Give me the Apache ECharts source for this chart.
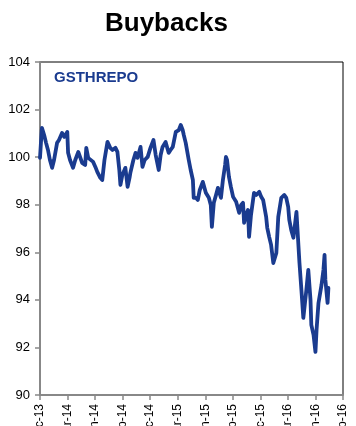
<!DOCTYPE html>
<html>
<head>
<meta charset="utf-8">
<script src="https://cdn.jsdelivr.net/npm/echarts@6/dist/echarts.min.js"></script>
<style>html,body{margin:0;padding:0;background:#fff}#c{width:356px;height:426px}</style>
</head>
<body>
<div id="c"></div>
<script>
// Quarter tick labels (x axis position = quarters since Dec-13)
var tickLabels = ['Dec-13','Mar-14','Jun-14','Sep-14','Dec-14','Mar-15','Jun-15','Sep-15','Dec-15','Mar-16','Jun-16','Sep-16'];
// Time positions (in quarters) of the sampled points
var quarterPos = [0,0.04,0.07,0.15,0.22,0.29,0.36,0.44,0.51,0.62,0.69,0.80,0.88,0.99,1.02,1.09,1.20,1.28,1.39,1.46,1.53,1.64,1.68,1.75,1.82,1.93,2.01,2.08,2.19,2.26,2.34,2.45,2.55,2.63,2.74,2.81,2.88,2.92,2.99,3.10,3.18,3.25,3.28,3.39,3.47,3.54,3.65,3.72,3.80,3.91,4.01,4.12,4.20,4.31,4.38,4.45,4.56,4.67,4.74,4.82,4.93,5.04,5.11,5.18,5.22,5.29,5.40,5.47,5.55,5.58,5.66,5.73,5.80,5.91,6.02,6.13,6.20,6.24,6.31,6.39,6.46,6.57,6.64,6.72,6.75,6.79,6.86,6.93,7.01,7.12,7.23,7.30,7.37,7.41,7.48,7.55,7.59,7.66,7.77,7.85,7.96,8.03,8.10,8.21,8.25,8.32,8.39,8.47,8.58,8.65,8.76,8.87,8.94,9.01,9.05,9.12,9.20,9.31,9.38,9.42,9.49,9.56,9.67,9.74,9.82,9.85,9.93,10.00,10.04,10.11,10.22,10.29,10.33,10.36,10.44,10.47];
// GSTHREPO index values
var gsthrepo = [99.97,100.72,101.23,100.93,100.60,100.30,99.88,99.55,99.88,100.60,100.72,101.02,100.85,101.06,100.18,99.88,99.55,99.88,100.22,100.22,99.76,99.67,100.39,99.97,100.01,99.80,99.59,99.38,99.13,99.04,99.88,100.64,100.39,100.30,100.39,100.22,99.46,98.83,99.25,99.55,98.75,99.13,99.34,99.88,100.18,99.97,100.43,99.59,99.88,100.01,100.39,100.72,100.09,99.46,100.09,100.43,100.64,100.18,100.30,100.43,101.06,101.14,101.35,101.14,100.93,100.60,99.88,99.46,99.04,98.29,98.29,98.20,98.62,98.96,98.50,98.29,97.99,97.07,98.08,98.41,98.71,98.29,99.04,99.67,100.01,99.88,99.17,98.75,98.33,98.12,97.66,97.99,98.08,97.24,97.57,97.78,96.65,97.57,98.50,98.41,98.54,98.33,98.20,97.49,97.03,96.65,96.31,95.55,95.97,97.49,98.29,98.41,98.29,97.91,97.36,96.94,96.61,97.70,97.70,95.55,94.42,93.24,94.42,95.26,94.00,92.95,92.53,91.81,92.74,93.87,94.63,95.26,95.89,94.84,93.87,94.50];
var yTicks = [90,92,94,96,98,100,102,104];

var data = quarterPos.map(function(q,i){return [q, gsthrepo[i]];});
var chart = echarts.init(document.getElementById('c'), null, {renderer:'canvas'});
var navy = '#1a3b8f';
chart.setOption({
  animation:false,
  backgroundColor:'#fff',
  textStyle:{fontFamily:'Liberation Sans, Arial, sans-serif'},
  grid:{left:40,right:13,top:62,bottom:31,containLabel:false,outerBoundsMode:'none',show:true,borderColor:'#000',borderWidth:1,backgroundColor:'transparent'},
  xAxis:{type:'value',min:0,max:tickLabels.length-1,interval:1,
    axisLine:{lineStyle:{color:'#888',width:2}},
    axisTick:{show:true,length:5,lineStyle:{color:'#888',width:1.5}},
    splitLine:{show:false},
    axisLabel:{rotate:90,margin:9,fontSize:12,color:'#000',hideOverlap:false,
      formatter:function(v){return tickLabels[Math.round(v)]||'';}}},
  yAxis:{type:'value',min:yTicks[0],max:yTicks[yTicks.length-1],interval:2,
    axisLine:{show:true,lineStyle:{color:'#888',width:2}},
    axisTick:{show:true,length:5,lineStyle:{color:'#888',width:1.5}},
    splitLine:{show:false},
    axisLabel:{margin:10,fontSize:13,color:'#000'}},
  graphic:[
    {type:'text',x:105,y:24,style:{text:'Buybacks',fill:'#000',font:'bold 26px "Liberation Sans", Arial, sans-serif',textVerticalAlign:'middle',verticalAlign:'middle'}},
    {type:'text',x:54,y:78,style:{text:'GSTHREPO',fill:navy,font:'bold 15px "Liberation Sans", Arial, sans-serif',textVerticalAlign:'middle',verticalAlign:'middle'}}
  ],
  series:[{type:'line',data:data,showSymbol:false,symbol:'none',
    lineStyle:{color:navy,width:3.8,join:'round',cap:'round'}}]
});
</script>
</body>
</html>
